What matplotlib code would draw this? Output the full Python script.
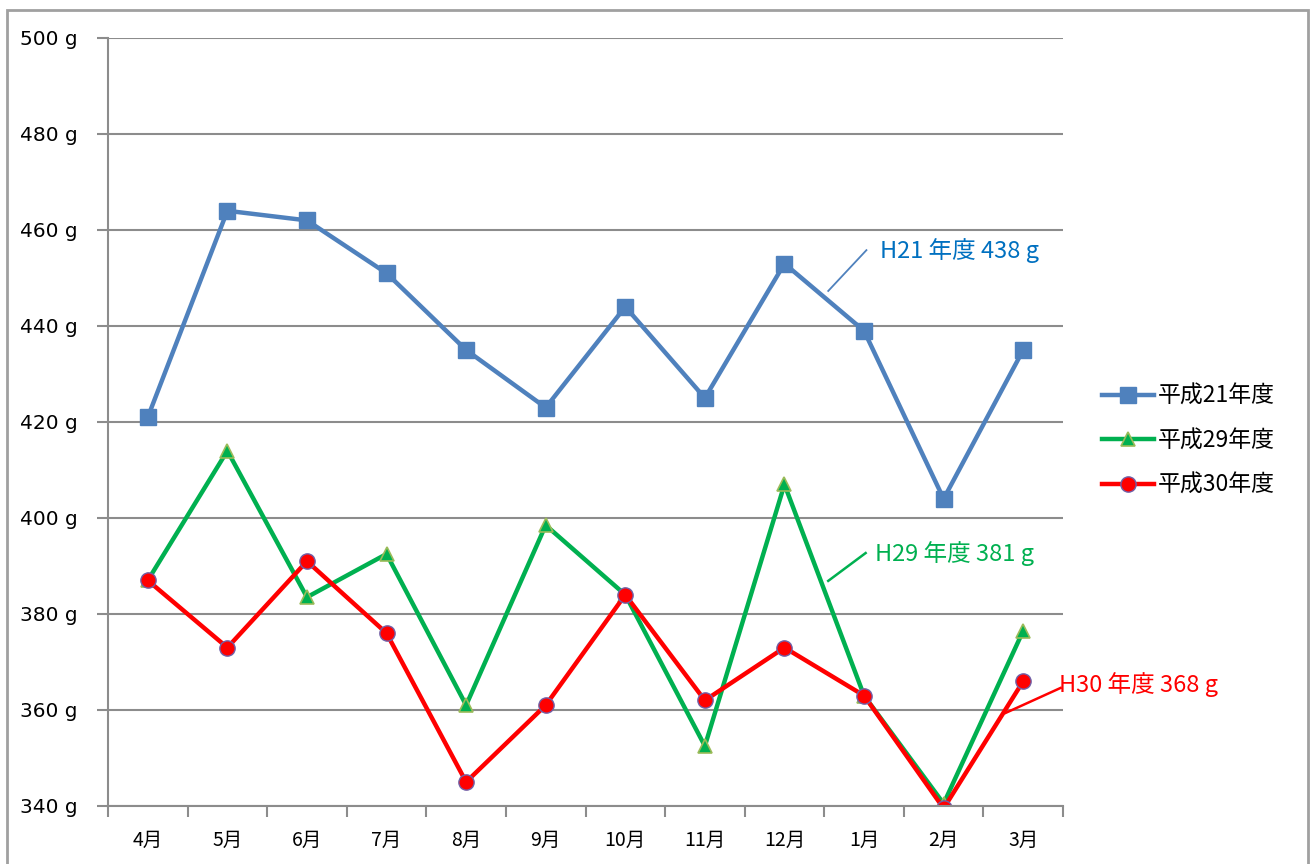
import matplotlib
matplotlib.use("Agg")
import matplotlib.pyplot as plt
from matplotlib.patches import Rectangle

plt.rcParams['font.family'] = ['Noto Sans CJK JP', 'DejaVu Sans']

months = ["4月", "5月", "6月", "7月", "8月", "9月", "10月", "11月", "12月", "1月", "2月", "3月"]
h21 = [421, 464, 462, 451, 435, 423, 444, 425, 453, 439, 404, 435]
h29 = [387, 414, 383.5, 392.5, 361, 398.5, 384, 352.5, 407, 363, 340.5, 376.5]
h30 = [387, 373, 391, 376, 345, 361, 384, 362, 373, 363, 339.5, 366]
series_names = ["平成21年度", "平成29年度", "平成30年度"]
yticks = [340, 360, 380, 400, 420, 440, 460, 480, 500]
annot = ["H21 年度 438 g", "H29 年度 381 g", "H30 年度 368 g"]

W, H = 1315, 864
fig = plt.figure(figsize=(W / 100, H / 100), dpi=100)
ax = fig.add_axes([108 / W, 1 - 806 / H, (1063 - 108) / W, (806 - 38) / H])

x = list(range(len(months)))
grid_c = "#8C8C8C"

ax.plot(x, h21, color="#4F81BD", lw=3.2, marker="s", ms=11,
        mfc="#4F81BD", mec="#4F81BD", label=series_names[0], zorder=3)
ax.plot(x, h29, color="#00B050", lw=3.2, marker="^", ms=10,
        mfc="#00B050", mec="#9BBB59", mew=1.2, label=series_names[1], zorder=4)
ax.plot(x, h30, color="#FF0000", lw=3.2, marker="o", ms=11,
        mfc="#FF0000", mec="#7060A8", mew=1.0, label=series_names[2], zorder=5)

ax.set_xlim(-0.5, len(months) - 0.5)
ax.set_ylim(340, 500)
ax.set_yticks(yticks)
ax.set_yticklabels([f"{v} g" for v in yticks], fontsize=14.5, family=['DejaVu Sans'])
ax.set_xticks(x)
ax.set_xticklabels(months, fontsize=14)
ax.set_xticks([i - 0.5 for i in range(len(months) + 1)], minor=True)
ax.tick_params(axis='x', which='major', length=0, pad=17)
ax.tick_params(axis='x', which='minor', length=8, width=1.5, color=grid_c, direction='out')
ax.tick_params(axis='y', length=8, width=1.5, color=grid_c, pad=14)

ax.grid(axis='y', color=grid_c, lw=1.5)
ax.set_axisbelow(True)
for s in ['top', 'right']:
    ax.spines[s].set_visible(False)
for s in ['left', 'bottom']:
    ax.spines[s].set_color(grid_c)
    ax.spines[s].set_linewidth(1.5)
ax.spines['bottom'].set_zorder(6)

# Annotations with leader lines
ax.plot([8.55, 9.03], [447.3, 455.8], color="#4F81BD", lw=1.3, zorder=6)
ax.text(9.2, 455.8, annot[0], color="#0070C0", fontsize=17, va='center', ha='left')
ax.plot([8.55, 9.02], [386.9, 392.7], color="#00B050", lw=1.8, zorder=6)
ax.text(9.14, 392.7, annot[1], color="#00B050", fontsize=17, va='center', ha='left')
ax.plot([10.78, 11.47], [359.4, 364.6], color="#FF0000", lw=1.8, zorder=6, clip_on=False)
ax.text(11.45, 365.4, annot[2], color="#FF0000", fontsize=17, va='center', ha='left')

leg = fig.legend(loc='upper left', bbox_to_anchor=(1081 / W, 1 - 364 / H), frameon=False,
                 fontsize=16.5, handlelength=2.3, handletextpad=0.15, labelspacing=0.95)

# outer border
fig.patches.append(Rectangle((7 / W, -0.01), (1308 - 7) / W, 1 - 10 / H + 0.01,
                             transform=fig.transFigure, fill=False,
                             edgecolor="#A0A0A0", lw=2.0))

fig.savefig("out.png", dpi=100)
